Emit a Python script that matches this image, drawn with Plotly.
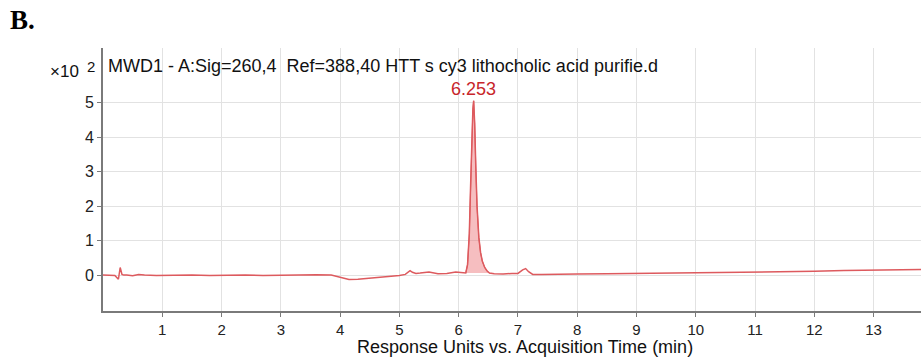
import plotly.graph_objects as go

# Chromatogram data (Response units x10^2 vs time in min)
time_min = [0.00, 0.10, 0.20, 0.26, 0.29, 0.32, 0.35, 0.40, 0.50, 0.60, 0.70, 0.90,
            1.20, 1.50, 1.80, 2.10, 2.40, 2.70, 3.00, 3.30, 3.60, 3.85, 3.95, 4.05,
            4.15, 4.30, 4.45, 4.60, 4.80, 5.00, 5.10, 5.18, 5.22, 5.28, 5.35, 5.50,
            5.65, 5.80, 5.95, 6.05, 6.12]
signal = [0.00, 0.00, -0.01, -0.12, 0.22, 0.02, 0.00, 0.00, -0.02, 0.02, 0.00, -0.01,
          0.00, 0.00, -0.01, 0.00, 0.00, -0.01, 0.00, 0.00, 0.01, 0.00, -0.05, -0.10,
          -0.13, -0.12, -0.10, -0.06, -0.04, -0.01, 0.02, 0.13, 0.08, 0.05, 0.06, 0.09,
          0.04, 0.05, 0.09, 0.06, 0.06]

peak_time = [6.12, 6.15, 6.18, 6.20, 6.22, 6.24, 6.253, 6.27, 6.29, 6.31, 6.34, 6.37,
             6.40, 6.44, 6.48, 6.52]
peak_signal = [0.06, 0.30, 1.20, 2.50, 4.00, 4.80, 5.05, 4.40, 3.10, 2.00, 1.10, 0.65,
               0.40, 0.22, 0.12, 0.06]

tail_time = [6.52, 6.60, 6.75, 6.90, 7.00, 7.08, 7.13, 7.18, 7.25, 7.40, 7.60, 7.80,
             8.00, 8.50, 9.00, 9.50, 10.00, 10.50, 11.00, 11.50, 12.00, 12.50, 13.00,
             13.50, 13.80]
tail_signal = [0.06, 0.04, 0.03, 0.05, 0.05, 0.15, 0.19, 0.10, 0.02, 0.02, 0.03, 0.02,
               0.03, 0.04, 0.05, 0.05, 0.06, 0.06, 0.07, 0.09, 0.11, 0.13, 0.14,
               0.15, 0.16]

peak_label = "6.253"
peak_rt = 6.253
peak_top = 5.05

x_ticks = list(range(1, 14))
y_ticks = [0, 1, 2, 3, 4, 5]

title_text = "MWD1 - A:Sig=260,4  Ref=388,40 HTT s cy3 lithocholic acid purifie.d"
x_title = "Response Units vs. Acquisition Time (min)"

line_color = "#dd5a5e"
fill_color = "rgba(236,110,115,0.45)"

all_t = time_min + peak_time[1:] + tail_time[1:]
all_s = signal + peak_signal[1:] + tail_signal[1:]

fig = go.Figure()
fig.add_trace(go.Scatter(x=peak_time, y=peak_signal, mode="lines", fill="toself",
                         fillcolor=fill_color, line=dict(color=line_color, width=1),
                         hoverinfo="skip", showlegend=False))
fig.add_trace(go.Scatter(x=all_t, y=all_s, mode="lines",
                         line=dict(color=line_color, width=1.5), showlegend=False))

W, H = 921, 358
l, r, t, b = 103, 0, 48, 47
pw, ph = W - l - r, H - t - b


def px(x):
    return (x - l) / pw


def py(y):
    return (H - b - y) / ph


font = "Liberation Sans, Arial, sans-serif"
fig.update_layout(
    width=W, height=H,
    margin=dict(l=l, r=r, t=t, b=b, autoexpand=False),
    paper_bgcolor="white", plot_bgcolor="white",
    font=dict(family=font, size=15, color="#222222"),
    xaxis=dict(range=[0, 13.8], tickvals=x_ticks, ticktext=[str(v) for v in x_ticks],
               showgrid=True, gridcolor="#e2e2e2", gridwidth=1, zeroline=False,
               showline=True, linecolor="#7a7a7a", linewidth=2, ticks="outside",
               ticklen=4, tickcolor="#7a7a7a", tickfont=dict(size=15, color="#222")),
    yaxis=dict(range=[-1.04, 6.58], tickvals=y_ticks, ticktext=[str(v) for v in y_ticks],
               showgrid=True, gridcolor="#e2e2e2", gridwidth=1, zeroline=False,
               showline=True, linecolor="#7a7a7a", linewidth=2, ticks="outside",
               ticklen=4, tickcolor="#7a7a7a", tickfont=dict(size=16, color="#222")),
)

fig.add_annotation(x=peak_rt, y=peak_top, xref="x", yref="y", text=peak_label,
                   showarrow=False, yanchor="bottom", yshift=0,
                   font=dict(family=font, size=18, color="#c8262b"))
fig.add_annotation(x=px(106), y=py(66), xref="paper", yref="paper", text=title_text,
                   showarrow=False, xanchor="left", yanchor="middle",
                   font=dict(family=font, size=18, color="#111"))
fig.add_annotation(x=px(525), y=py(347), text=x_title, showarrow=False,
                   xref="paper", yref="paper", xanchor="center", yanchor="middle",
                   font=dict(family=font, size=18, color="#111"))
fig.add_annotation(x=px(81), y=py(71), text="×10", showarrow=False, xref="paper", yref="paper",
                   xanchor="right", yanchor="middle",
                   font=dict(family=font, size=17, color="#111"))
fig.add_annotation(x=px(91), y=py(66), text="2", showarrow=False, xref="paper", yref="paper",
                   xanchor="center", yanchor="middle",
                   font=dict(family=font, size=15, color="#111"))
fig.add_annotation(x=px(8), y=py(20), text="<b>B.</b>", showarrow=False, xref="paper", yref="paper",
                   xanchor="left", yanchor="middle",
                   font=dict(family="Liberation Serif, Times New Roman, serif", size=27, color="#000"))

fig.write_html("out.html", config={"displayModeBar": False},
               post_script="document.body.style.margin='0';document.body.style.overflow='hidden';")
